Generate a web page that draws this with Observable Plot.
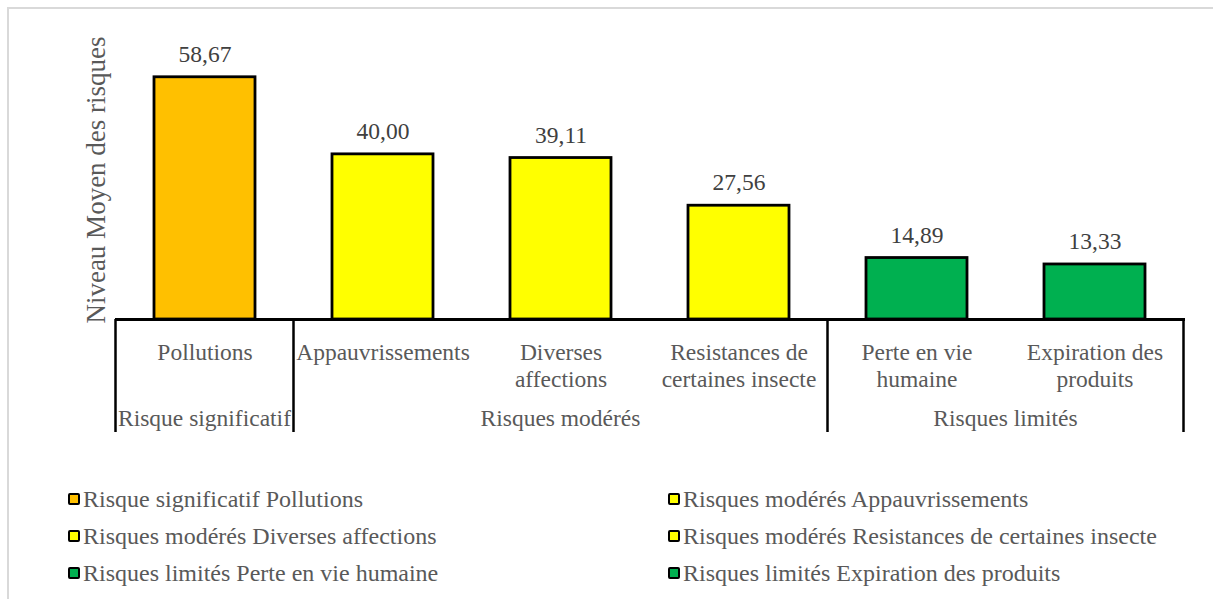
<!DOCTYPE html>
<html>
<head>
<meta charset="utf-8">
<script src="https://cdn.jsdelivr.net/npm/d3@7"></script>
<script src="https://cdn.jsdelivr.net/npm/@observablehq/plot@0.6"></script>
<style>
  html, body { margin: 0; padding: 0; background: #fff; }
  #wrap { position: relative; width: 1213px; height: 599px; overflow: hidden; font-family: "Liberation Serif", "Times New Roman", serif; }
  #frame { position: absolute; left: 7px; top: 7px; width: 1300px; height: 700px; border: 2px solid #d9d9d9; box-sizing: border-box; }
  #chart { position: absolute; left: 0; top: 0; }
  #legend { position: absolute; left: 68px; top: 485px; width: 1140px; display: grid; grid-template-columns: 600px 540px; row-gap: 9px; }
  .item { display: flex; align-items: center; height: 28px; font-size: 24px; color: #595959; white-space: nowrap; }
  .sw { width: 8px; height: 8px; border: 2.5px solid #000; border-radius: 2px; margin-right: 3px; flex: none; }
</style>
</head>
<body>
<div id="wrap">
  <div id="frame"></div>
  <div id="chart"></div>
  <div id="legend"></div>
</div>
<script>
// ---- Data ----
const categories = ["Pollutions", "Appauvrissements", "Diverses affections", "Resistances de certaines insecte", "Perte en vie humaine", "Expiration des produits"];
const catLabels = ["Pollutions", "Appauvrissements", "Diverses\naffections", "Resistances de\ncertaines insecte", "Perte en vie\nhumaine", "Expiration des\nproduits"];
const groups = ["Risque significatif", "Risques modérés", "Risques modérés", "Risques modérés", "Risques limités", "Risques limités"];
const values = [58.67, 40.00, 39.11, 27.56, 14.89, 13.33];
const groupColors = {"Risque significatif": "#FFC000", "Risques modérés": "#FFFF00", "Risques limités": "#00B050"};
const yTitle = "Niveau Moyen des risques";

const data = categories.map((c, i) => ({cat: c, label: catLabels[i], group: groups[i], value: values[i]}));
const groupList = Array.from(new Set(groups));

const FONT = '"Liberation Serif", "Times New Roman", serif';
const GRAY = "#595959";
const PAD = 0.43;

function multiLevelAxis(index, scales, vals, dims) {
  const x = scales.x, y = scales.y;
  const bw = x.bandwidth ? x.bandwidth() : 0;
  const step = x.step ? x.step() : bw / (1 - PAD);
  const cx = c => x(c) + bw / 2;
  const y0 = y(0);
  const g = d3.create("svg:g");
  const bounds = [];
  groupList.forEach(gr => {
    const cats = data.filter(d => d.group === gr).map(d => d.cat);
    bounds.push(cx(cats[0]) - step / 2);
  });
  bounds.push(cx(categories[categories.length - 1]) + step / 2);
  bounds.forEach(bx => {
    g.append("line").attr("x1", bx).attr("x2", bx).attr("y1", y0).attr("y2", y0 + 113)
      .attr("stroke", "#000").attr("stroke-width", 2.5);
  });
  groupList.forEach(gr => {
    const cats = data.filter(d => d.group === gr).map(d => d.cat);
    const mid = (cx(cats[0]) + cx(cats[cats.length - 1])) / 2;
    g.append("text").attr("x", mid).attr("y", y0 + 107)
      .attr("text-anchor", "middle").attr("fill", GRAY)
      .attr("font-family", FONT).attr("font-size", 23.5).text(gr);
  });
  return g.node();
}

const chart = Plot.plot({
  width: 1213,
  height: 470,
  marginTop: 30,
  marginBottom: 151,
  marginLeft: 115,
  marginRight: 28,
  style: {fontFamily: FONT, background: "transparent", overflow: "visible"},
  x: {domain: categories, paddingInner: PAD, paddingOuter: PAD / 2, axis: null},
  y: {domain: [0, 70], axis: null},
  marks: [
    Plot.barY(data, {x: "cat", y: "value", fill: d => groupColors[d.group], stroke: "#000", strokeWidth: 2.8}),
    Plot.ruleY([0], {stroke: "#000", strokeWidth: 2.8}),
    Plot.text(data, {x: "cat", y: "value", text: d => d.value.toFixed(2).replace(".", ","), dy: -23, fontSize: 23.5, fill: "#404040"}),
    Plot.text(data, {x: "cat", y: 0, text: "label", lineAnchor: "top", dy: 21, lineHeight: 1.15, fontSize: 23.5, fill: GRAY}),
    Plot.text([yTitle], {frameAnchor: "left", textAnchor: "middle", text: d => d, rotate: -90, dx: -19, dy: 5, fontSize: 27, fill: GRAY}),
    multiLevelAxis
  ]
});
document.getElementById("chart").appendChild(chart);

// ---- Legend (two columns, row order) ----
const legend = document.getElementById("legend");
data.forEach(d => {
  const it = document.createElement("div");
  it.className = "item";
  const sw = document.createElement("span");
  sw.className = "sw";
  sw.style.background = groupColors[d.group];
  it.appendChild(sw);
  it.appendChild(document.createTextNode(d.group + " " + d.cat));
  legend.appendChild(it);
});
</script>
</body>
</html>
